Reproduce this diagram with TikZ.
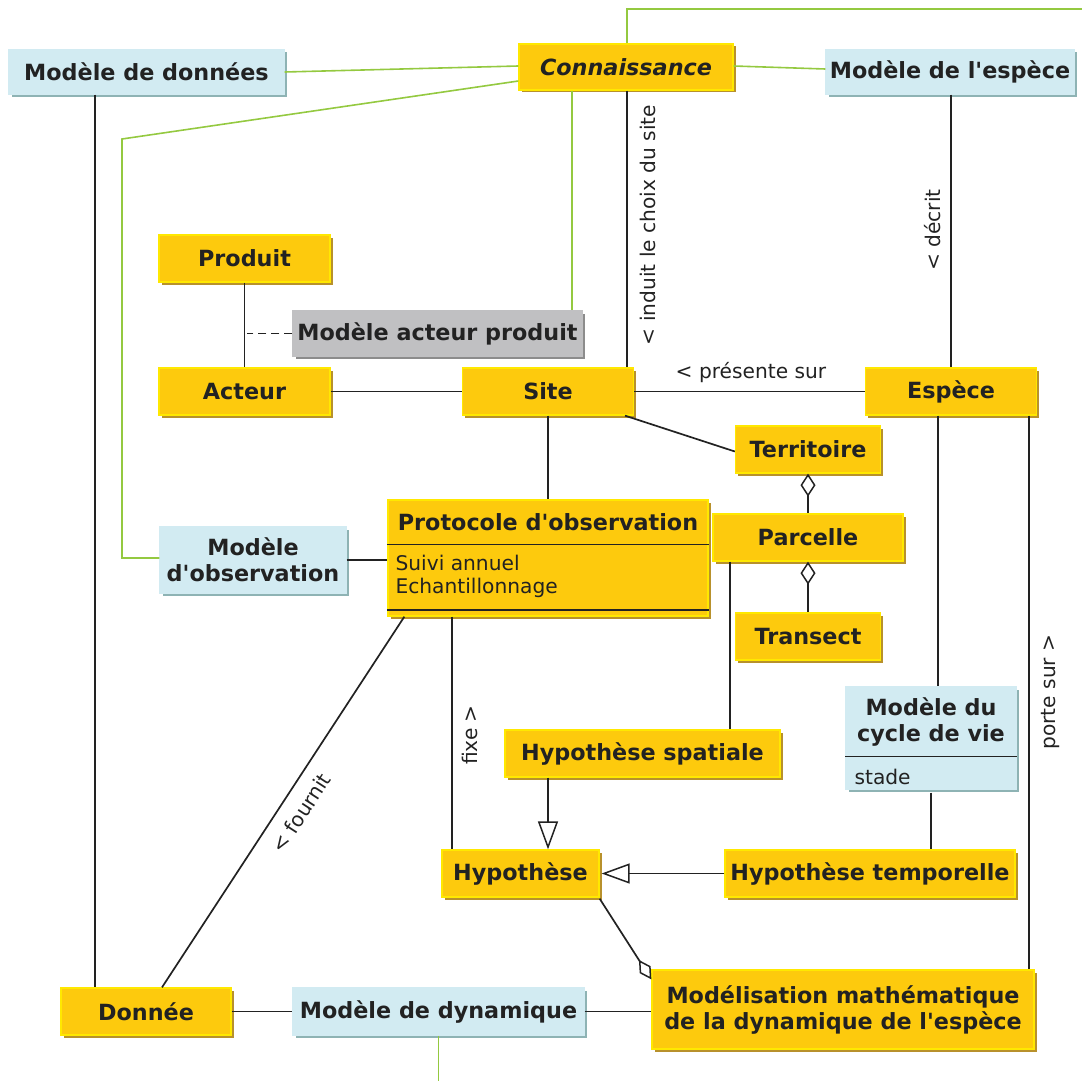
\documentclass[tikz,border=0pt]{standalone}
\usepackage{fontspec}
\setmainfont{DejaVu Sans}[Ligatures=TeXOff]
\usetikzlibrary{arrows.meta,shadows,calc}
\definecolor{yfill}{HTML}{FDCA0D}
\definecolor{ybord}{HTML}{FFE800}
\definecolor{yshad}{HTML}{B8912C}
\definecolor{bfill}{HTML}{D2EBF2}
\definecolor{bbord}{HTML}{D2EBF2}
\definecolor{bshad}{HTML}{8EB3B4}
\definecolor{gfill}{HTML}{C0C0C2}
\definecolor{gbord}{HTML}{C0C0C2}
\definecolor{gshad}{HTML}{8C8C8C}
\definecolor{grn}{HTML}{94C940}
\definecolor{lk}{HTML}{222222}
\definecolor{txt}{HTML}{222222}
\begin{document}
\begin{tikzpicture}[x=1pt,y=-1pt]
\tikzset{
  base/.style={rectangle, inner sep=0pt, line width=1.3pt, text=txt, align=center,
    font=\bfseries\fontsize{22.3}{26}\selectfont},
  ybox/.style={base, draw=ybord, fill=yfill,
    drop shadow={shadow xshift=2.5pt, shadow yshift=-2.5pt, fill=yshad, opacity=1}},
  bbox/.style={base, draw=bbord, fill=bfill,
    drop shadow={shadow xshift=2.5pt, shadow yshift=-2.5pt, fill=bshad, opacity=1}},
  gbox/.style={base, draw=gbord, fill=gfill,
    drop shadow={shadow xshift=2.5pt, shadow yshift=-2.5pt, fill=gshad, opacity=1}},
  ttl/.style={inner sep=0pt, text=txt, align=center, font=\bfseries\fontsize{22.3}{26}\selectfont},
  lnk/.style={draw=lk, line width=1.7pt},
  glnk/.style={draw=grn, line width=1.6pt},
  lbl/.style={font=\fontsize{20.2}{24}\selectfont, text=txt, inner sep=0pt},
  attr/.style={font=\fontsize{20.2}{24}\selectfont, text=txt, inner sep=0pt, anchor=west},
  agg/.style={{Diamond[open,length=23pt,width=15pt,line width=1.5pt]}-},
  aggend/.style={-{Diamond[open,length=23pt,width=13pt,line width=1.5pt]}},
  inh/.style={-{Triangle[open,length=28pt,width=20pt,line width=1.5pt]}},
}
\useasboundingbox (0,0) rectangle (1082,1081);

% ---- nodes ----
\node[bbox, minimum width=275pt, minimum height=44pt] (mdd) at (146.5,72) {Modèle de données};
\node[ybox, minimum width=214pt, minimum height=46pt, font=\bfseries\itshape\fontsize{22.3}{26}\selectfont] (conn) at (626,67) {Connaissance};
\node[bbox, minimum width=248pt, minimum height=44pt] (mde) at (950,72) {Modèle de l'espèce};

\node[ybox, minimum width=171pt, minimum height=47pt] (produit) at (244.5,258.5) {Produit};
\node[gbox, minimum width=289pt, minimum height=45pt] (mapr) at (437.5,333.5) {Modèle acteur produit};
\node[ybox, minimum width=171pt, minimum height=47pt] (acteur) at (244.5,391.5) {Acteur};
\node[ybox, minimum width=171pt, minimum height=47pt] (site) at (548,391.5) {Site};
\node[ybox, minimum width=171pt, minimum height=47pt] (esp) at (951,391.5) {Espèce};

\node[ybox, minimum width=145pt, minimum height=47pt] (terr) at (808,449.5) {Territoire};
\node[ybox, minimum width=190pt, minimum height=47pt] (parc) at (808,537.5) {Parcelle};
\node[ybox, minimum width=145pt, minimum height=47pt] (trans) at (808,636.5) {Transect};

\node[ybox, minimum width=320pt, minimum height=116pt] (proto) at (548,558) {};
\node[ttl] (protoT) at (548,522) {Protocole d'observation};
\node[attr] (protoA) at ([xshift=8pt,yshift=-64pt]proto.north west) {Suivi annuel};
\node[attr] (protoB) at ([xshift=8pt,yshift=-89pt]proto.north west) {Echantillonnage};

\node[bbox, minimum width=186pt, minimum height=66pt] (mobs) at (253,560) {Modèle\\d'observation};

\node[ybox, minimum width=275pt, minimum height=47pt] (hsp) at (642.5,753.5) {Hypothèse spatiale};
\node[bbox, minimum width=170pt, minimum height=102pt] (mcv) at (931,738) {};
\node[ttl] (mcvT) at (931,722) {Modèle du\\cycle de vie};
\node[attr] (mcvA) at ([xshift=9pt,yshift=-91pt]mcv.north west) {stade};

\node[ybox, minimum width=157pt, minimum height=47pt] (hyp) at (520.5,873.5) {Hypothèse};
\node[ybox, minimum width=290pt, minimum height=47pt] (htemp) at (870,873.5) {Hypothèse temporelle};

\node[ybox, minimum width=382pt, minimum height=79pt] (modl) at (843,1009.5) {Modélisation mathématique\\de la dynamique de l'espèce};
\node[ybox, minimum width=170pt, minimum height=47pt] (donnee) at (146,1011.5) {Donnée};
\node[bbox, minimum width=291pt, minimum height=47pt] (mdyn) at (438.5,1011.5) {Modèle de dynamique};

% separators
\draw[lnk] ([yshift=-45pt]proto.north west) -- ([yshift=-45pt]proto.north east);
\draw[lnk] ([yshift=7pt]proto.south west) -- ([yshift=7pt]proto.south east);
\draw[lnk] ([yshift=-70pt]mcv.north west) -- ([yshift=-70pt]mcv.north east);

% ---- coordinates ----
\coordinate (topR) at (1082,9);
\coordinate (gbend1) at (122,139);
\coordinate (gbend2) at (122,558);
\coordinate (botG) at (438.5,1081);

% ---- green links ----
\draw[glnk] (mdd.east) -- ([yshift=1pt]conn.west);
\draw[glnk] ([yshift=1pt]conn.east) -- ([yshift=3pt]mde.west);
\draw[glnk] ([xshift=1pt]conn.north) |- (topR);
\draw[glnk] ([yshift=-14pt]conn.west) -- (gbend1) -- (gbend2) -- (mobs.west |- gbend2);
\draw[glnk] ([xshift=-54pt]conn.south) -- ([xshift=-54pt]conn.south |- mapr.north);
\draw[glnk] (mdyn.south) -- (botG);

% ---- black links ----
\draw[lnk] ([xshift=-51.5pt]mdd.south) -- ([xshift=-51pt]donnee.north);
\draw[lnk] ([xshift=1pt]conn.south) -- ([xshift=1pt]conn.south |- site.north);
\node[lbl, rotate=90] (lInduit) at (648,225) {< induit le choix du site};
\draw[lnk] (esp.north |- mde.south) -- (esp.north);
\node[lbl, rotate=90] (lDecrit) at (933,230) {< décrit};
\draw[lnk] (produit.south) -- (acteur.north);
\draw[lnk, dash pattern=on 8pt off 5pt] (mapr.west) -- ([xshift=2pt]produit.south |- mapr.west);
\draw[lnk] (acteur.east) -- (site.west);
\draw[lnk] (site.east) -- (esp.west);
\node[lbl] (lPres) at (751,373) {< présente sur};
\draw[lnk] (site.south) -- (site.south |- proto.north);
\draw[lnk] ([xshift=77pt]site.south) -- ([yshift=-2pt]terr.west);
\draw[lnk, agg] (terr.south) -- (parc.north);
\draw[lnk, agg] (parc.south) -- (trans.north);
\draw[lnk] (mobs.east) -- (mobs.east -| proto.west);
\draw[lnk] ([xshift=-78pt]parc.south) -- ([xshift=-78pt]parc.south |- hsp.north);
\draw[lnk] ([xshift=-13pt]esp.south) -- ([xshift=-13pt]esp.south |- mcv.north);
\draw[lnk] ([xshift=78pt]esp.south) -- ([xshift=78pt]esp.south |- modl.north);
\node[lbl, rotate=90] (lPorte) at (1050,692) {porte sur >};
\draw[lnk] ([xshift=-96pt]proto.south) -- ([xshift=-96pt]proto.south |- hyp.north);
\node[lbl, rotate=90] (lFixe) at (470,735) {fixe >};
\draw[lnk] ([xshift=17pt]proto.south west) -- ([xshift=16pt]donnee.north);
\node[lbl, rotate=57] (lFournit) at (301,813) {< fournit};
\draw[lnk, inh] ([xshift=-94.5pt]hsp.south) -- ([xshift=-94.5pt]hsp.south |- hyp.north);
\draw[lnk, inh] (htemp.west) -- ([xshift=2pt]hyp.east);
\draw[lnk] ([yshift=-3pt]mcv.south) -- (mcv.south |- htemp.north);
\draw[lnk, aggend] ([yshift=-1pt]hyp.south east) -- ([yshift=-10pt]modl.north west);
\draw[lnk] (donnee.east) -- (mdyn.west);
\draw[lnk] (mdyn.east) -- (mdyn.east -| modl.west);
\end{tikzpicture}
\end{document}
